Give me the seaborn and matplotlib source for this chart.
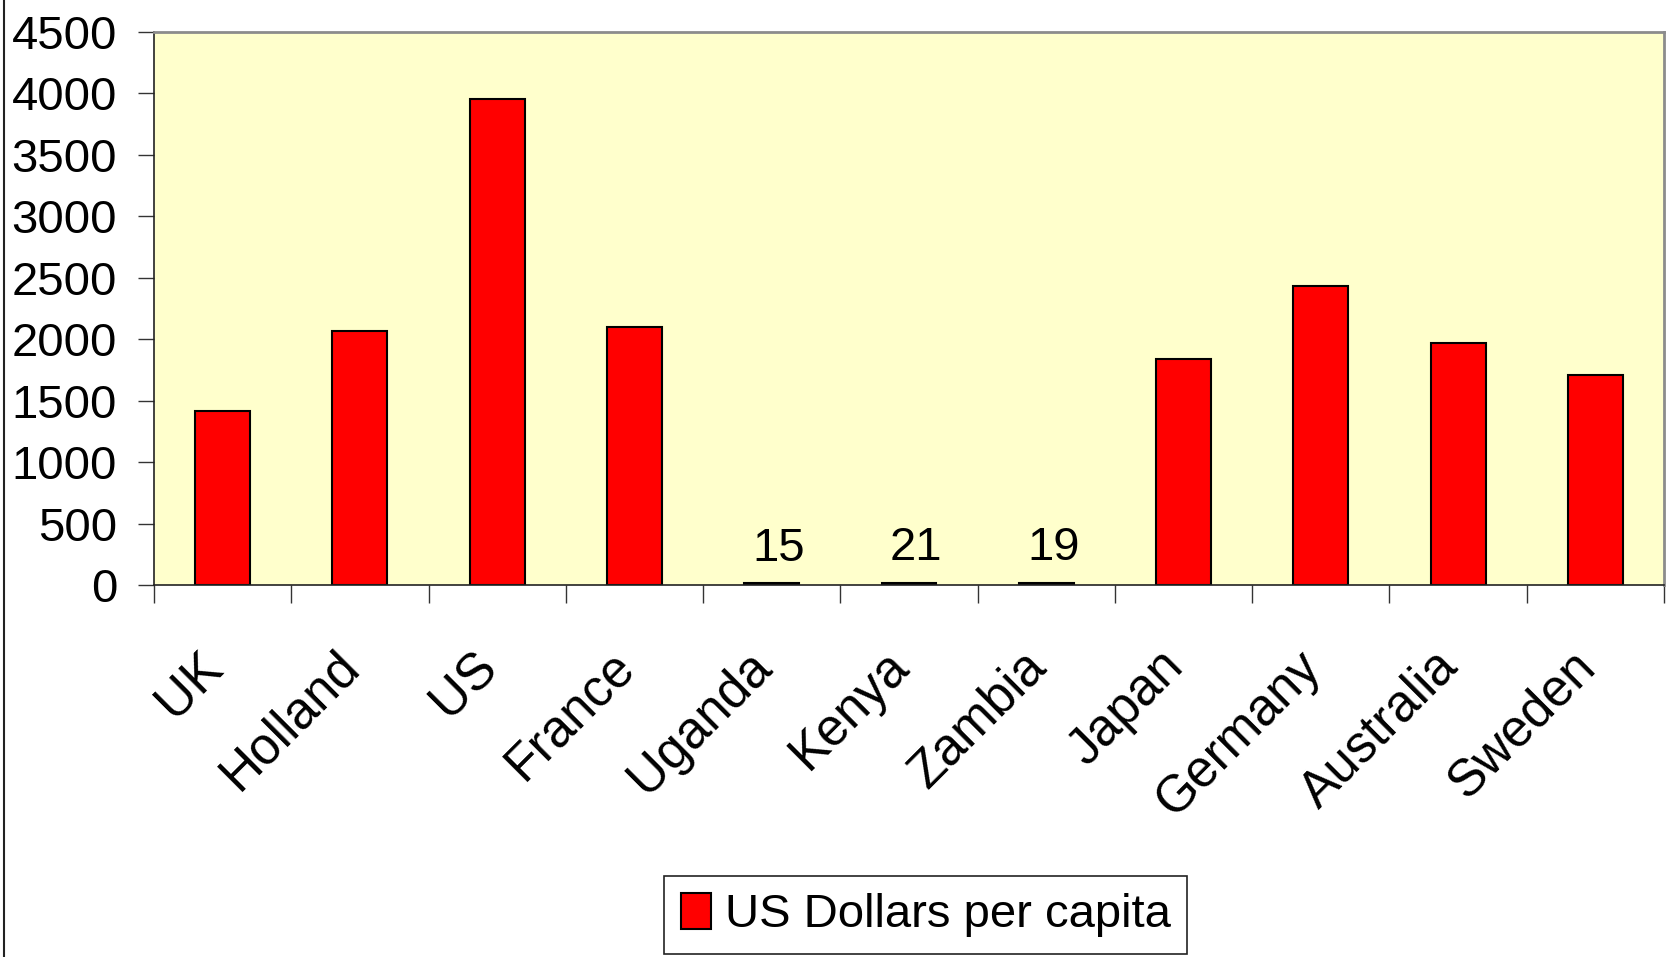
import matplotlib
matplotlib.use("Agg")
import matplotlib.pyplot as plt
from matplotlib.lines import Line2D
import matplotlib.transforms as mtransforms
import numpy as np
import pandas as pd
import seaborn as sns

# Health spending per person, by country
countries = ["UK", "Holland", "US", "France", "Uganda", "Kenya", "Zambia",
             "Japan", "Germany", "Australia", "Sweden"]
dollars_per_capita = [1420, 2070, 3950, 2100, 15, 21, 19, 1840, 2430, 1970, 1710]
y_ticks = [0, 500, 1000, 1500, 2000, 2500, 3000, 3500, 4000, 4500]
series_name = "US Dollars per capita"
# only the tiny bars get a value label
labelled = {"Uganda", "Kenya", "Zambia"}

sns.set_theme(style="white")
plt.rcParams["font.family"] = ["Liberation Sans", "DejaVu Sans"]
plt.rcParams["text.color"] = "black"
plt.rcParams["xtick.color"] = "black"
plt.rcParams["ytick.color"] = "black"
plt.rcParams["axes.labelcolor"] = "black"

W, H = 1676, 957
fig = plt.figure(figsize=(W / 100, H / 100), dpi=100)
left, right, top, bottom = 154, 1664, 31.7, 585.2
ax = fig.add_axes([left / W, 1 - bottom / H, (right - left) / W, (bottom - top) / H])

df = pd.DataFrame({"country": countries, "value": dollars_per_capita})
sns.barplot(data=df, x="country", y="value", color="#FF0000", saturation=1,
            width=0.4, edgecolor="black", linewidth=1.5, ax=ax)

ax.set_facecolor("#FFFFCC")
ax.set_xlim(-0.5, len(countries) - 0.5)
ax.set_ylim(0, 4500)
ax.set_xlabel("")
ax.set_ylabel("")

# y axis
ax.set_yticks(y_ticks)
ax.set_yticklabels([str(t) for t in y_ticks], fontsize=34, color="black")
ax.tick_params(axis="y", left=True, length=11.5, width=1, color="#333333",
               pad=15, direction="out")

# x axis: labels at the centres, tick marks between categories
ax.set_xticks(range(len(countries)))
ax.set_xticklabels(countries, rotation=45, ha="right", rotation_mode="anchor",
                   fontsize=37, color="black")
ax.tick_params(axis="x", which="major", bottom=True, length=0, pad=43)
shift = mtransforms.ScaledTranslation(-0.25, 0.03, fig.dpi_scale_trans)
for lbl in ax.get_xticklabels():
    lbl.set_transform(lbl.get_transform() + shift)
ax.set_xticks(np.arange(-0.5, len(countries), 1), minor=True)
ax.tick_params(axis="x", which="minor", bottom=True, length=13, width=1,
               color="#333333", direction="out")

for side in ["top", "right"]:
    ax.spines[side].set_color("#8C8C8C")
    ax.spines[side].set_linewidth(2)
for side in ["left", "bottom"]:
    ax.spines[side].set_color("#222222")
    ax.spines[side].set_linewidth(1.2)

bars = ax.containers[0]
value_labels = ax.bar_label(
    bars,
    labels=[str(v) if c in labelled else "" for c, v in zip(countries, dollars_per_capita)],
    padding=9, fontsize=34, color="black")
# nudge the value labels a little to the right of the bar centre
for t in value_labels:
    dx, dy = t.xyann
    t.xyann = (dx + 5, dy)

leg = fig.legend(handles=[bars], labels=[series_name], loc="upper left",
                 bbox_to_anchor=(664 / W, 1 - 876 / H), borderaxespad=0,
                 fontsize=34, frameon=True, fancybox=False, framealpha=1,
                 edgecolor="#222222", borderpad=0.35, handlelength=0.64,
                 handleheight=0.8, handletextpad=0.3)
leg.get_frame().set_linewidth(1.2)
for t in leg.get_texts():
    t.set_color("black")

# chart-area border on the left edge
fig.add_artist(Line2D([4 / W, 4 / W], [0, 1], transform=fig.transFigure,
                      color="#222222", linewidth=1.5))

fig.savefig("out.png", dpi=100)
